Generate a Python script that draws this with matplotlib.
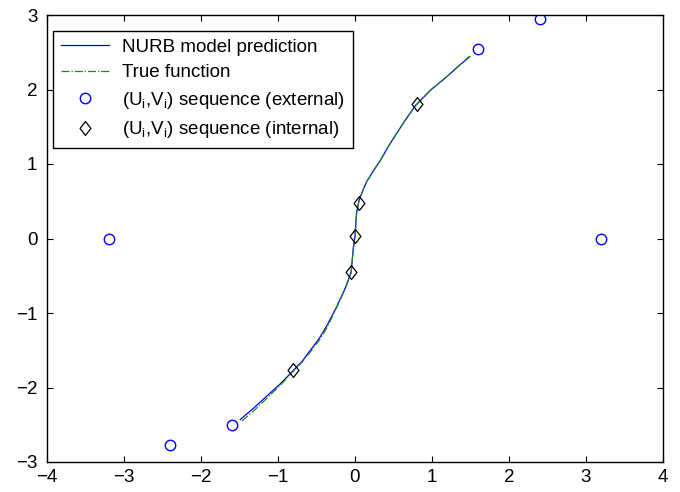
import numpy as np
import matplotlib
matplotlib.use('Agg')
import matplotlib.pyplot as plt
from matplotlib.path import Path

# ================================================================
# data
# ================================================================
nurb_x = [-1.49, -1.32, -1.15, -0.97, -0.80, -0.68, -0.58, -0.47, -0.37, -0.24, -0.12,
          -0.05, -0.02, 0.00, 0.02, 0.05, 0.10, 0.15, 0.24, 0.33, 0.43, 0.54, 0.66,
          0.79, 0.98, 1.19, 1.34, 1.49]
nurb_y = [-2.43, -2.28, -2.12, -1.95, -1.77, -1.64, -1.50, -1.35, -1.18, -0.92, -0.65,
          -0.45, -0.11, 0.03, 0.34, 0.50, 0.64, 0.76, 0.91, 1.05, 1.23, 1.41, 1.60,
          1.79, 1.99, 2.17, 2.31, 2.44]

true_x = [-1.47, -1.30, -1.14, -0.97, -0.80, -0.68, -0.57, -0.46, -0.36, -0.24, -0.12,
          -0.05, -0.02, 0.00, 0.02, 0.05, 0.10, 0.15, 0.24, 0.33, 0.43, 0.54, 0.66,
          0.79, 0.98, 1.19, 1.34, 1.49]
true_y = [-2.45, -2.30, -2.14, -1.97, -1.78, -1.65, -1.51, -1.36, -1.19, -0.93, -0.66,
          -0.46, -0.12, 0.02, 0.33, 0.50, 0.64, 0.76, 0.91, 1.05, 1.23, 1.41, 1.60,
          1.79, 1.99, 2.17, 2.31, 2.45]

ext_u = [-3.2, -2.4, -1.6, 1.6, 2.4, 3.2]
ext_v = [0.0, -2.77, -2.50, 2.54, 2.94, 0.0]

int_u = [-0.80, -0.05, 0.00, 0.05, 0.80]
int_v = [-1.77, -0.45, 0.03, 0.48, 1.80]

labels = ['NURB model prediction', 'True function',
          r'(U$_\mathregular{i}$,V$_\mathregular{i}$) sequence (external)',
          r'(U$_\mathregular{i}$,V$_\mathregular{i}$) sequence (internal)']

# ================================================================
# style
# ================================================================
plt.rcParams['font.family'] = ['Liberation Sans', 'DejaVu Sans']
plt.rcParams['mathtext.fontset'] = 'custom'
plt.rcParams['mathtext.rm'] = 'Liberation Sans'
plt.rcParams['font.size'] = 13.5

# matlab 스타일 다이아몬드 (약간 납작)
diamond = Path([(0, 1), (0.78, 0), (0, -1), (-0.78, 0), (0, 1)],
               [Path.MOVETO, Path.LINETO, Path.LINETO, Path.LINETO, Path.CLOSEPOLY])

fig = plt.figure(figsize=(6.8, 4.92), dpi=100)
ax = fig.add_axes([47 / 680, 30 / 492, 616 / 680, 447 / 492])

ax.plot(nurb_x, nurb_y, '-', color='#0000ff', lw=0.9, label=labels[0])
ax.plot(true_x, true_y, '-.', color='#1a8a1a', lw=0.9, label=labels[1])
ax.plot(ext_u, ext_v, 'o', mfc='none', mec='#0000ff', ms=7.5, mew=1.0, label=labels[2])
ax.plot(int_u, int_v, ls='none', marker=diamond, mfc='none', mec='black', ms=10, mew=0.9,
        label=labels[3])

ax.set_xlim(-4, 4)
ax.set_ylim(-3, 3)
ax.set_xticks(np.arange(-4, 5, 1))
ax.set_yticks(np.arange(-3, 4, 1))
ax.tick_params(direction='in', length=4, width=0.8, top=True, right=True, labelsize=13.5)
ax.tick_params(axis='x', pad=5)
ax.tick_params(axis='y', pad=7)
for s in ax.spines.values():
    s.set_linewidth(1.0)

leg = ax.legend(loc='upper left', bbox_to_anchor=(53 / 680, 1 - 31 / 492),
                bbox_transform=fig.transFigure, borderaxespad=0, fancybox=False,
                framealpha=1, edgecolor='black', handlelength=2.6, handletextpad=0.7,
                labelspacing=0.45, borderpad=0.4, fontsize=13.5)
leg.get_frame().set_linewidth(1.0)

fig.savefig('out.png', dpi=100)
